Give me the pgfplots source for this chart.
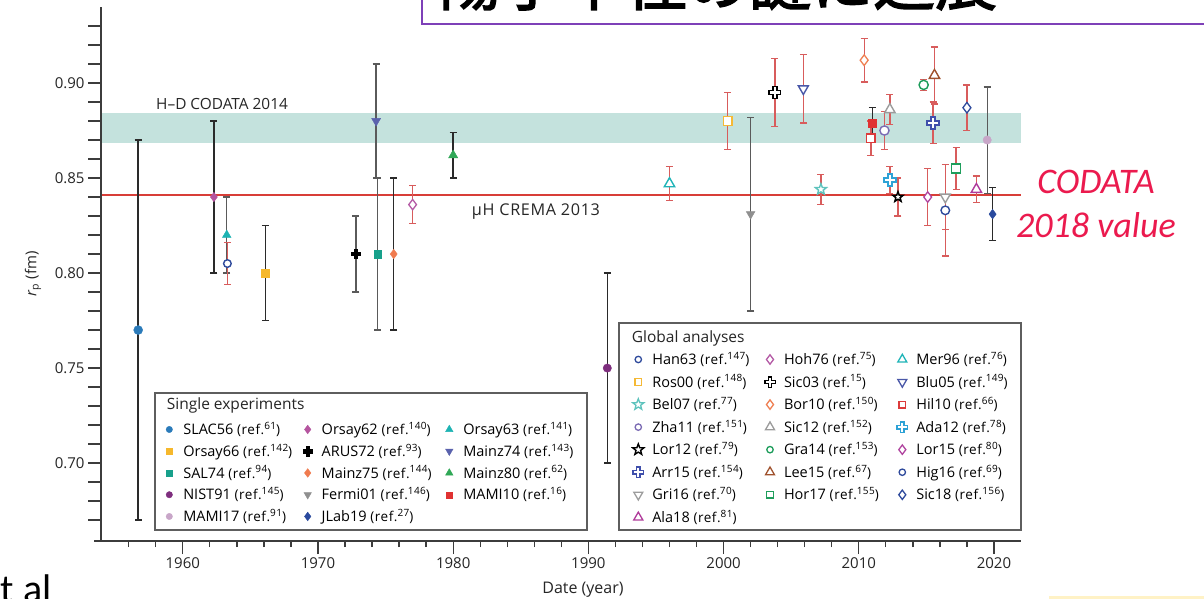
\documentclass[border=0pt]{standalone}
\usepackage{fontspec}
\setmainfont{Open Sans}
\newfontfamily\reffont[LetterSpace=4]{Open Sans}
\newfontfamily\calibri{Carlito}
\newfontfamily\cjkb[FakeBold=2.5]{Noto Sans CJK JP}
\usepackage{pgfplots}
\pgfplotsset{compat=1.18}
\usetikzlibrary{plotmarks}

% frame and reference lines
\definecolor{axcol}{HTML}{3C3C3C}
\definecolor{band}{HTML}{C4E2DD}
\definecolor{crema}{HTML}{D83E38}
\definecolor{ebar}{HTML}{D85C5C}
\definecolor{ebk}{HTML}{2A2A2A}
\definecolor{egy}{HTML}{5A5A5A}
\definecolor{codared}{HTML}{EB1A4E}
\definecolor{ttlpurple}{HTML}{7E40B8}
\definecolor{yelstrip}{HTML}{FFF2C6}
\definecolor{boxcol}{HTML}{5E5E5E}
% single experiments
\definecolor{cSLAC}{HTML}{2B7BBA}
\definecolor{cOrA}{HTML}{B5559F}
\definecolor{cOrB}{HTML}{1DB3B3}
\definecolor{cOrC}{HTML}{F6B82C}
\definecolor{cMzA}{HTML}{5A62AD}
\definecolor{cSAL}{HTML}{17A08B}
\definecolor{cMzB}{HTML}{F07B4F}
\definecolor{cMzC}{HTML}{30A857}
\definecolor{cNIST}{HTML}{7E2E7E}
\definecolor{cFermi}{HTML}{8F8F8F}
\definecolor{cMAMIa}{HTML}{E03232}
\definecolor{cMAMIb}{HTML}{C8A6C8}
\definecolor{cJLab}{HTML}{2A4A9E}
% global analyses
\definecolor{cHan}{HTML}{2F4A9C}
\definecolor{cHoh}{HTML}{B45AA5}
\definecolor{cMer}{HTML}{1FB4B8}
\definecolor{cRos}{HTML}{F5B935}
\definecolor{cBlu}{HTML}{4A58A8}
\definecolor{cBel}{HTML}{5EC3BD}
\definecolor{cBor}{HTML}{EF7F52}
\definecolor{cHil}{HTML}{DC3B3B}
\definecolor{cZha}{HTML}{7C6CB4}
\definecolor{cGrey}{HTML}{9C9C9C}
\definecolor{cAda}{HTML}{2EA2D6}
\definecolor{cGra}{HTML}{1C9C5A}
\definecolor{cLee}{HTML}{A0522D}
\definecolor{cArr}{HTML}{3F4FAB}
\definecolor{cLor}{HTML}{B0449F}
\definecolor{cHor}{HTML}{1F9E5C}
\definecolor{cAla}{HTML}{B03B9B}

% plus-shaped outline mark
\pgfdeclareplotmark{pcross}{%
  \pgfpathmoveto{\pgfqpoint{-0.34\pgfplotmarksize}{\pgfplotmarksize}}%
  \pgfpathlineto{\pgfqpoint{0.34\pgfplotmarksize}{\pgfplotmarksize}}%
  \pgfpathlineto{\pgfqpoint{0.34\pgfplotmarksize}{0.34\pgfplotmarksize}}%
  \pgfpathlineto{\pgfqpoint{\pgfplotmarksize}{0.34\pgfplotmarksize}}%
  \pgfpathlineto{\pgfqpoint{\pgfplotmarksize}{-0.34\pgfplotmarksize}}%
  \pgfpathlineto{\pgfqpoint{0.34\pgfplotmarksize}{-0.34\pgfplotmarksize}}%
  \pgfpathlineto{\pgfqpoint{0.34\pgfplotmarksize}{-\pgfplotmarksize}}%
  \pgfpathlineto{\pgfqpoint{-0.34\pgfplotmarksize}{-\pgfplotmarksize}}%
  \pgfpathlineto{\pgfqpoint{-0.34\pgfplotmarksize}{-0.34\pgfplotmarksize}}%
  \pgfpathlineto{\pgfqpoint{-\pgfplotmarksize}{-0.34\pgfplotmarksize}}%
  \pgfpathlineto{\pgfqpoint{-\pgfplotmarksize}{0.34\pgfplotmarksize}}%
  \pgfpathlineto{\pgfqpoint{-0.34\pgfplotmarksize}{0.34\pgfplotmarksize}}%
  \pgfpathclose
  \pgfusepathqfillstroke
}
% five-pointed star outline mark
\pgfdeclareplotmark{pstar}{%
  \pgfpathmoveto{\pgfqpointpolar{90}{\pgfplotmarksize}}%
  \pgfpathlineto{\pgfqpointpolar{126}{0.42\pgfplotmarksize}}%
  \pgfpathlineto{\pgfqpointpolar{162}{\pgfplotmarksize}}%
  \pgfpathlineto{\pgfqpointpolar{198}{0.42\pgfplotmarksize}}%
  \pgfpathlineto{\pgfqpointpolar{234}{\pgfplotmarksize}}%
  \pgfpathlineto{\pgfqpointpolar{270}{0.42\pgfplotmarksize}}%
  \pgfpathlineto{\pgfqpointpolar{306}{\pgfplotmarksize}}%
  \pgfpathlineto{\pgfqpointpolar{342}{0.42\pgfplotmarksize}}%
  \pgfpathlineto{\pgfqpointpolar{18}{\pgfplotmarksize}}%
  \pgfpathlineto{\pgfqpointpolar{54}{0.42\pgfplotmarksize}}%
  \pgfpathclose
  \pgfusepathqfillstroke
}

% one measurement: colour, mark keys, year, radius, error, bar colour
\newcommand{\sgl}[6]{\addplot[only marks, forget plot, color=#1, #2,
  error bars/y dir=both, error bars/y explicit,
  error bars/error bar style={line width=1.4pt, draw=#6},
  error bars/error mark options={rotate=90, mark size=3.5pt, line width=1.4pt, draw=#6}]
  coordinates {(#3,#4) +- (0,#5)};}
% one global analysis: colour, mark keys, year, radius, error
\newcommand{\glb}[5]{\addplot[only marks, forget plot, color=#1, #2,
  error bars/y dir=both, error bars/y explicit,
  error bars/error bar style={line width=1.3pt, draw=ebar},
  error bars/error mark options={rotate=90, mark size=3.5pt, line width=1.3pt, draw=ebar}]
  coordinates {(#3,#4) +- (0,#5)};}

% legend entry: box width, name, reference number
\newcommand{\LE}[3]{\makebox[#1][l]{\rule[-1.15pt]{0pt}{13pt}\smash{\fontsize{14.5}{14.5}\selectfont #2\ {\reffont\fontsize{13.5}{13.5}\selectfont(ref.\raisebox{5.2pt}{\fontsize{10}{10}\selectfont #3})}}}}

\pgfplotsset{
  frameaxis/.style={at={(101pt,58pt)}, anchor=south west, scale only axis,
    width=920pt, height=534pt},
  legaxis/.style={frameaxis, xmin=0, xmax=1, ymin=0, ymax=1, hide axis,
    legend columns=3, legend cell align=left,
    legend image code/.code={\path[draw=none, fill=none] (-7pt,-6.5pt) rectangle (14pt,6.5pt);
      \draw[mark repeat=2, mark phase=2, ##1] plot coordinates {(-7pt,0pt) (0pt,0pt) (7pt,0pt)};}},
}

\begin{document}
\begin{tikzpicture}
\useasboundingbox (0,0) rectangle (1204pt,599pt);
\fill[white] (0,0) rectangle (1204pt,599pt);
\clip (0,0) rectangle (1204pt,599pt);

% slide title box
\draw[ttlpurple, line width=2pt] (422pt,575pt) rectangle (1240pt,650pt);
\node[anchor=base west, inner sep=0pt, font=\cjkb\fontsize{62}{62}\selectfont] at (439pt,594pt) {陽子半径の謎に進展};

\begin{axis}[frameaxis,
  xmin=1953.95, xmax=2022, ymin=0.659, ymax=0.940,
  axis x line*=bottom, axis y line*=left,
  axis line style={-, line width=1.5pt, color=axcol},
  axis on top,
  tick align=outside,
  major tick length=13pt, minor tick length=6pt,
  tick style={line width=1.3pt, color=axcol},
  xtick={1960,1970,1980,1990,2000,2010,2020},
  xticklabels={1960,1970,1980,1990,2000,2010,2020},
  minor xtick={1956,1958,...,2020},
  ytick={0.70,0.75,0.80,0.85,0.90},
  yticklabels={0.70,0.75,0.80,0.85,0.90},
  extra y ticks={0.67,0.68,0.69,0.71,0.72,0.73,0.74,0.76,0.77,0.78,0.79,0.81,0.82,0.83,0.84,0.86,0.87,0.88,0.89,0.91,0.92,0.93},
  extra y tick labels={},
  tick label style={font=\fontsize{15}{15}\selectfont, text=black!85},
  xlabel={Date (year)},
  xlabel style={at={(axis description cs:0.5239,-0.0918)}, anchor=center, font=\fontsize{16}{16}\selectfont, text=black!85},
  ylabel={\textit{r}\textsubscript{p} (fm)},
  ylabel style={at={(axis description cs:-0.0739,0.5)}, anchor=center, font=\fontsize{15}{15}\selectfont, text=black!85},
]
% H-D CODATA 2014 band (0.8684 to 0.8840) and muonic hydrogen value
\addplot[draw=band, line width=29.64pt, forget plot] coordinates {(1953.95,0.8762) (2022,0.8762)};
\addplot[draw=crema, line width=1.7pt, forget plot] coordinates {(1953.95,0.8409) (2022,0.8409)};

% single experiments
\sgl{cSLAC}{mark=*, mark size=4.5pt}{1956.7}{0.770}{0.100}{ebk}
\sgl{cOrA}{mark=diamond*, mark size=4.7pt}{1962.3}{0.840}{0.040}{ebk}
\sgl{cOrB}{mark=triangle*, mark size=5pt}{1963.25}{0.820}{0.020}{egy}
\sgl{cOrC}{mark=square*, mark size=3.8pt}{1966.1}{0.800}{0.025}{ebk}
\sgl{black}{mark=pcross, mark size=4.6pt}{1972.8}{0.810}{0.020}{egy}
\sgl{cMzA}{mark=triangle*, mark size=5.2pt, mark options={rotate=180}}{1974.3}{0.880}{0.030}{egy}
\sgl{cSAL}{mark=square*, mark size=3.7pt}{1974.4}{0.810}{0.040}{egy}
\sgl{cMzB}{mark=diamond*, mark size=4.7pt}{1975.6}{0.810}{0.040}{ebk}
\sgl{cMzC}{mark=triangle*, mark size=5.3pt}{1980.0}{0.862}{0.012}{ebk}
\sgl{cNIST}{mark=*, mark size=4.2pt}{1991.4}{0.750}{0.050}{ebk}
\sgl{cFermi}{mark=triangle*, mark size=5pt, mark options={rotate=180}}{2002.0}{0.831}{0.051}{egy}
\sgl{cMAMIa}{mark=square*, mark size=4pt}{2011.0}{0.879}{0.008}{ebk}
\sgl{cMAMIb}{mark=*, mark size=4.2pt}{2019.5}{0.870}{0.028}{egy}
\sgl{cJLab}{mark=diamond*, mark size=4.8pt}{2019.9}{0.831}{0.014}{ebk}

% global analyses
\glb{cHan}{mark=*, mark size=3.8pt, mark options={fill=white, line width=1.4pt}}{1963.3}{0.805}{0.011}
\glb{cHoh}{mark=diamond*, mark size=5.2pt, mark options={fill=white, line width=1.3pt}}{1977.0}{0.836}{0.010}
\glb{cMer}{mark=triangle*, mark size=6pt, mark options={fill=white, line width=1.4pt}}{1996.0}{0.847}{0.009}
\glb{cRos}{mark=square*, mark size=4.4pt, mark options={fill=white, line width=1.4pt}}{2000.3}{0.880}{0.015}
\glb{black}{mark=pcross, mark size=5.8pt, mark options={fill=white, line width=1.4pt}}{2003.8}{0.895}{0.018}
\glb{cBlu}{mark=triangle*, mark size=5.8pt, mark options={rotate=180, fill=white, line width=1.4pt}}{2005.9}{0.897}{0.018}
\glb{cBel}{mark=pstar, mark size=5.8pt, mark options={fill=white, line width=1.4pt}}{2007.2}{0.844}{0.008}
\glb{cBor}{mark=diamond*, mark size=5.3pt, mark options={fill=white, line width=1.3pt}}{2010.4}{0.912}{0.0115}
\glb{cHil}{mark=square*, mark size=4.2pt, mark options={fill=white, line width=1.4pt}}{2010.9}{0.871}{0.009}
\glb{cZha}{mark=*, mark size=4.6pt, mark options={fill=white, line width=1.4pt}}{2011.9}{0.875}{0.010}
\glb{cGrey}{mark=triangle*, mark size=6pt, mark options={fill=white, line width=1.4pt}}{2012.3}{0.886}{0.008}
\glb{cAda}{mark=pcross, mark size=6pt, mark options={fill=white, line width=1.4pt}}{2012.3}{0.849}{0.007}
\glb{black}{mark=pstar, mark size=5.3pt, mark options={fill=white, line width=1.5pt}}{2012.9}{0.840}{0.010}
\glb{cGra}{mark=*, mark size=4.6pt, mark options={fill=white, line width=1.4pt}}{2014.8}{0.899}{0.003}
\glb{cLor}{mark=diamond*, mark size=5.2pt, mark options={fill=white, line width=1.3pt}}{2015.1}{0.840}{0.015}
\glb{cArr}{mark=pcross, mark size=6pt, mark options={fill=white, line width=1.4pt}}{2015.5}{0.879}{0.011}
\glb{cLee}{mark=triangle*, mark size=6pt, mark options={fill=white, line width=1.4pt}}{2015.6}{0.904}{0.015}
\glb{cGrey}{mark=triangle*, mark size=5.8pt, mark options={rotate=180, fill=white, line width=1.4pt}}{2016.4}{0.840}{0.017}
\glb{cHan}{mark=*, mark size=4.3pt, mark options={fill=white, line width=1.4pt}}{2016.4}{0.833}{0.024}
\glb{cHor}{mark=square*, mark size=4.5pt, mark options={fill=white, line width=1.4pt}}{2017.2}{0.855}{0.011}
\glb{cHan}{mark=diamond*, mark size=5.3pt, mark options={fill=white, line width=1.3pt}}{2018.0}{0.887}{0.012}
\glb{cAla}{mark=triangle*, mark size=6pt, mark options={fill=white, line width=1.4pt}}{2018.7}{0.844}{0.007}
\end{axis}

% the x axis line runs a little past the y axis
\draw[axcol, line width=1.5pt] (94pt,58pt) -- (102pt,58pt);

% reference line labels
\node[anchor=base west, inner sep=0pt, font=\fontsize{15.4}{15.4}\selectfont, text=black!85] at (156pt,489.5pt) {H--D CODATA 2014};
\node[anchor=base west, inner sep=0pt, font=\reffont\fontsize{16.2}{16.2}\selectfont, text=black!85] at (471.7pt,383pt) {μH CREMA 2013};
\node[anchor=base, inner sep=0pt, font=\calibri\itshape\fontsize{36}{36}\selectfont, text=codared] at (1096pt,405pt) {CODATA};
\node[anchor=base, inner sep=0pt, font=\calibri\itshape\fontsize{36}{36}\selectfont, text=codared] at (1096pt,361.7pt) {2018 value};

% legend frames and headings
\draw[boxcol, line width=1.2pt, fill=white] (155pt,69pt) rectangle (587pt,206pt);
\draw[boxcol, line width=1.2pt, fill=white] (619pt,69pt) rectangle (1021pt,276pt);
\node[anchor=base west, inner sep=0pt, font=\fontsize{15.5}{15.5}\selectfont, text=black!85] at (166.7pt,189.5pt) {Single experiments};
\node[anchor=base west, inner sep=0pt, font=\fontsize{15.5}{15.5}\selectfont, text=black!85] at (631.7pt,256.7pt) {Global analyses};

\begin{axis}[legaxis,
  legend style={at={(0.06663,0.22135)}, anchor=north west, draw=none, fill=none,
    inner sep=0pt, outer sep=0pt, column sep=0pt, row sep=8.4pt, nodes={inner sep=0pt}}]
\addlegendimage{only marks, mark=*, color=cSLAC, mark size=3.2pt}
\addlegendentry{\LE{117.4pt}{SLAC56}{61}}
\addlegendimage{only marks, mark=diamond*, color=cOrA, mark size=4.3pt}
\addlegendentry{\LE{120.6pt}{Orsay62}{140}}
\addlegendimage{only marks, mark=triangle*, color=cOrB, mark size=4.3pt}
\addlegendentry{\LE{\width}{Orsay63}{141}}
\addlegendimage{only marks, mark=square*, color=cOrC, mark size=3pt}
\addlegendentry{\LE{117.4pt}{Orsay66}{142}}
\addlegendimage{only marks, mark=pcross, color=black, mark size=4.6pt}
\addlegendentry{\LE{120.6pt}{ARUS72}{93}}
\addlegendimage{only marks, mark=triangle*, color=cMzA, mark size=4.3pt, mark options={rotate=180}}
\addlegendentry{\LE{\width}{Mainz74}{143}}
\addlegendimage{only marks, mark=square*, color=cSAL, mark size=3pt}
\addlegendentry{\LE{117.4pt}{SAL74}{94}}
\addlegendimage{only marks, mark=diamond*, color=cMzB, mark size=4.3pt}
\addlegendentry{\LE{120.6pt}{Mainz75}{144}}
\addlegendimage{only marks, mark=triangle*, color=cMzC, mark size=4.3pt}
\addlegendentry{\LE{\width}{Mainz80}{62}}
\addlegendimage{only marks, mark=*, color=cNIST, mark size=3.2pt}
\addlegendentry{\LE{117.4pt}{NIST91}{145}}
\addlegendimage{only marks, mark=triangle*, color=cFermi, mark size=4.3pt, mark options={rotate=180}}
\addlegendentry{\LE{120.6pt}{Fermi01}{146}}
\addlegendimage{only marks, mark=square*, color=cMAMIa, mark size=3pt}
\addlegendentry{\LE{\width}{MAMI10}{16}}
\addlegendimage{only marks, mark=*, color=cMAMIb, mark size=3.2pt}
\addlegendentry{\LE{117.4pt}{MAMI17}{91}}
\addlegendimage{only marks, mark=diamond*, color=cJLab, mark size=4.3pt}
\addlegendentry{\LE{120.6pt}{JLab19}{27}}
\end{axis}

\begin{axis}[legaxis,
  legend style={at={(0.5764,0.35243)}, anchor=north west, draw=none, fill=none,
    inner sep=0pt, outer sep=0pt, column sep=0pt, row sep=9.2pt, nodes={inner sep=0pt}}]
\addlegendimage{only marks, mark=*, color=cHan, mark size=3.2pt, mark options={fill=white, line width=1.3pt}}
\addlegendentry{\LE{110.7pt}{Han63}{147}}
\addlegendimage{only marks, mark=diamond*, color=cHoh, mark size=4.7pt, mark options={fill=white, line width=1.3pt}}
\addlegendentry{\LE{111.3pt}{Hoh76}{75}}
\addlegendimage{only marks, mark=triangle*, color=cMer, mark size=5.2pt, mark options={fill=white, line width=1.3pt}}
\addlegendentry{\LE{\width}{Mer96}{76}}
\addlegendimage{only marks, mark=square*, color=cRos, mark size=3.3pt, mark options={fill=white, line width=1.3pt}}
\addlegendentry{\LE{110.7pt}{Ros00}{148}}
\addlegendimage{only marks, mark=pcross, color=black, mark size=5.2pt, mark options={fill=white, line width=1.4pt}}
\addlegendentry{\LE{111.3pt}{Sic03}{15}}
\addlegendimage{only marks, mark=triangle*, color=cBlu, mark size=5.2pt, mark options={rotate=180, fill=white, line width=1.3pt}}
\addlegendentry{\LE{\width}{Blu05}{149}}
\addlegendimage{only marks, mark=pstar, color=cBel, mark size=5.8pt, mark options={fill=white, line width=1.3pt}}
\addlegendentry{\LE{110.7pt}{Bel07}{77}}
\addlegendimage{only marks, mark=diamond*, color=cBor, mark size=4.7pt, mark options={fill=white, line width=1.3pt}}
\addlegendentry{\LE{111.3pt}{Bor10}{150}}
\addlegendimage{only marks, mark=square*, color=cHil, mark size=3.3pt, mark options={fill=white, line width=1.3pt}}
\addlegendentry{\LE{\width}{Hil10}{66}}
\addlegendimage{only marks, mark=*, color=cZha, mark size=3.2pt, mark options={fill=white, line width=1.3pt}}
\addlegendentry{\LE{110.7pt}{Zha11}{151}}
\addlegendimage{only marks, mark=triangle*, color=cGrey, mark size=5.2pt, mark options={fill=white, line width=1.3pt}}
\addlegendentry{\LE{111.3pt}{Sic12}{152}}
\addlegendimage{only marks, mark=pcross, color=cAda, mark size=5.2pt, mark options={fill=white, line width=1.4pt}}
\addlegendentry{\LE{\width}{Ada12}{78}}
\addlegendimage{only marks, mark=pstar, color=black, mark size=5.8pt, mark options={fill=white, line width=1.4pt}}
\addlegendentry{\LE{110.7pt}{Lor12}{79}}
\addlegendimage{only marks, mark=*, color=cGra, mark size=3.2pt, mark options={fill=white, line width=1.3pt}}
\addlegendentry{\LE{111.3pt}{Gra14}{153}}
\addlegendimage{only marks, mark=diamond*, color=cLor, mark size=4.7pt, mark options={fill=white, line width=1.3pt}}
\addlegendentry{\LE{\width}{Lor15}{80}}
\addlegendimage{only marks, mark=pcross, color=cArr, mark size=5.2pt, mark options={fill=white, line width=1.4pt}}
\addlegendentry{\LE{110.7pt}{Arr15}{154}}
\addlegendimage{only marks, mark=triangle*, color=cLee, mark size=5.2pt, mark options={fill=white, line width=1.3pt}}
\addlegendentry{\LE{111.3pt}{Lee15}{67}}
\addlegendimage{only marks, mark=*, color=cHan, mark size=3.2pt, mark options={fill=white, line width=1.3pt}}
\addlegendentry{\LE{\width}{Hig16}{69}}
\addlegendimage{only marks, mark=triangle*, color=cGrey, mark size=5.2pt, mark options={rotate=180, fill=white, line width=1.3pt}}
\addlegendentry{\LE{110.7pt}{Gri16}{70}}
\addlegendimage{only marks, mark=square*, color=cHor, mark size=3.3pt, mark options={fill=white, line width=1.3pt}}
\addlegendentry{\LE{111.3pt}{Hor17}{155}}
\addlegendimage{only marks, mark=diamond*, color=cHan, mark size=4.7pt, mark options={fill=white, line width=1.3pt}}
\addlegendentry{\LE{\width}{Sic18}{156}}
\addlegendimage{only marks, mark=triangle*, color=cAla, mark size=5.2pt, mark options={fill=white, line width=1.3pt}}
\addlegendentry{\LE{110.7pt}{Ala18}{81}}
\end{axis}

% slide remnants around the figure
\node[anchor=base west, inner sep=0pt, font=\calibri\fontsize{40}{40}\selectfont] at (-19pt,-4pt) {et al};
\fill[yelstrip] (1049pt,0pt) rectangle (1204pt,3pt);
\end{tikzpicture}
\end{document}
